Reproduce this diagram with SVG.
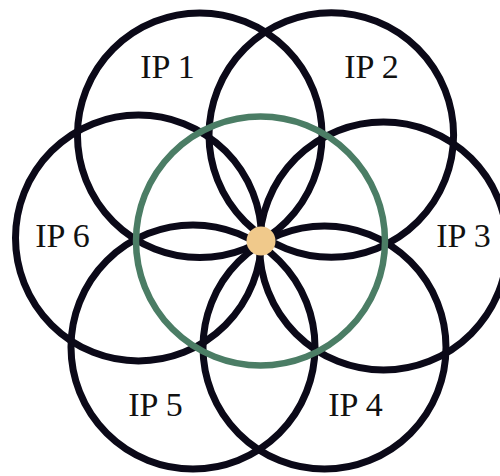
<svg xmlns="http://www.w3.org/2000/svg" width="500" height="476" viewBox="0 0 500 476">
<style>
.ring{fill:none;stroke:#0b0918;stroke-width:7}
.green{fill:none;stroke:#4b7d65;stroke-width:6.5}
.lbl{font-family:"Liberation Serif","Times New Roman",serif;font-size:34px;fill:#111;text-anchor:middle}
</style>
<rect width="500" height="476" fill="#fff"/>
<g id="ip1"><circle class="ring" cx="199.75" cy="135.25" r="122.3"/><text class="lbl" x="167.5" y="78">IP 1</text></g>
<g id="ip2"><circle class="ring" cx="331.3" cy="135" r="122.3"/><text class="lbl" x="371.5" y="78">IP 2</text></g>
<g id="ip3"><circle class="ring" cx="383.5" cy="246" r="124"/><text class="lbl" x="463.5" y="247">IP 3</text></g>
<g id="ip4"><circle class="ring" cx="324.5" cy="347.5" r="121.5"/><text class="lbl" x="355.5" y="416">IP 4</text></g>
<g id="ip5"><circle class="ring" cx="193" cy="347" r="122"/><text class="lbl" x="155.5" y="416">IP 5</text></g>
<g id="ip6"><circle class="ring" cx="138.5" cy="238" r="123"/><text class="lbl" x="62.5" y="247">IP 6</text></g>
<g id="core"><circle class="green" cx="260.5" cy="241" r="124.5"/></g>
<g id="center"><circle cx="261" cy="241" r="14.5" fill="#f0c98b"/></g>
<g id="connectors"/>
</svg>
